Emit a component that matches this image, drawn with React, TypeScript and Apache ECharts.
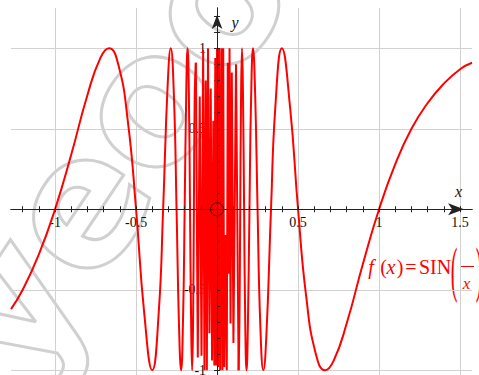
import React, { useEffect, useRef } from 'react';
import * as echarts from 'echarts';

// Left branch of the curve (x < 0)
const leftX = [-1.272, -1.2, -1.1, -1.0, -0.9, -0.8, -0.72, -0.667, -0.61, -0.55, -0.5, -0.45, -0.4, -0.36, -0.333, -0.305, -0.286, -0.267, -0.25, -0.235, -0.222, -0.21, -0.2, -0.19, -0.182, -0.174, -0.167, -0.16, -0.154, -0.148, -0.143, -0.138, -0.131];
const leftY = [-0.62, -0.5, -0.28, 0, 0.34, 0.71, 0.94, 1.0, 0.9, 0.54, 0, -0.64, -1.0, -0.64, 0, 0.77, 1.0, 0.72, 0, -0.72, -1.0, -0.68, 0, 0.74, 1.0, 0.71, 0, -0.71, -1.0, -0.69, 0, 0.7, 0.91];

// Dense oscillation block around x = 0
const centerX = [-0.131, -0.119, -0.107, -0.096, -0.086, -0.078, -0.07, -0.063, -0.056, -0.047, -0.039, -0.031, -0.023, -0.017, -0.011, -0.006, 0.0, 0.006, 0.012, 0.019, 0.026, 0.033, 0.038, 0.044, 0.051, 0.06, 0.066, 0.072, 0.077, 0.083, 0.091, 0.101, 0.117, 0.133];
const centerY = [0.91, -0.92, 0.7, -0.91, 0.99, -1.0, 0.8, -1.0, 1.0, -0.77, 0.75, -0.94, 0.55, -0.97, 0.94, -0.97, 1.0, -0.98, 1.0, -1.0, 1.0, -1.0, 1.0, -0.98, -0.16, -1.0, 0.91, -0.4, 1.0, -0.71, 0.85, -0.83, 0.9, -1.0];

// Right branch of the curve (x > 0)
const rightX = [0.133, 0.138, 0.143, 0.148, 0.154, 0.16, 0.167, 0.174, 0.182, 0.19, 0.2, 0.21, 0.222, 0.235, 0.25, 0.267, 0.286, 0.305, 0.333, 0.36, 0.4, 0.45, 0.5, 0.55, 0.61, 0.667, 0.72, 0.8, 0.9, 1.0, 1.1, 1.2, 1.3, 1.4, 1.5, 1.574];
const rightY = [-1.0, -0.7, 0, 0.69, 1.0, 0.71, 0, -0.71, -1.0, -0.74, 0, 0.68, 1.0, 0.72, 0, -0.72, -1.0, -0.77, 0, 0.64, 1.0, 0.64, 0, -0.54, -0.9, -1.0, -0.94, -0.71, -0.34, 0, 0.28, 0.5, 0.66, 0.78, 0.87, 0.91];

// Axis ticks / labels / grid lines
const xTicks = [-1.2, -1.1, -1.0, -0.9, -0.8, -0.7, -0.6, -0.5, -0.4, -0.3, -0.2, -0.1, 0, 0.1, 0.2, 0.3, 0.4, 0.5, 0.6, 0.7, 0.8, 0.9, 1.0, 1.1, 1.2, 1.3, 1.4, 1.5];
const yTicks = [-1.0, -0.9, -0.8, -0.7, -0.6, -0.5, -0.4, -0.3, -0.2, -0.1, 0, 0.1, 0.2, 0.3, 0.4, 0.5, 0.6, 0.7, 0.8, 0.9, 1.0, 1.1, 1.2];
const xLabels = [-1, -0.5, 0.5, 1, 1.5];
const yLabels = [-1, -0.5, 0.5, 1];
const gridX = [-1, -0.5, 0.5, 1, 1.5];
const gridY = [-1, -0.5, 0.5, 1];

const X_MIN = -1.272;
const X_MAX = 1.574;
const Y_MIN = -1.1;
const Y_MAX = 1.25;

const G_LEFT = 11;
const G_TOP = 8;
const G_W = 461.05;
const G_H = 378.35;

const SERIF = '"Liberation Serif", "DejaVu Serif", serif';
const RED = '#ff0000';
const AXIS = '#222';

const zip = (xs: number[], ys: number[]) => xs.map((x, i) => [x, ys[i]]);

function buildOption() {
  // pixel position of the zero lines inside the grid, used to move the axes onto them
  const zeroX = G_LEFT + ((0 - X_MIN) / (X_MAX - X_MIN)) * G_W;
  const zeroY = G_TOP + ((Y_MAX - 0) / (Y_MAX - Y_MIN)) * G_H;
  const offBottom = -(G_TOP + G_H - zeroY);
  const offTop = -(zeroY - G_TOP);
  const offLeft = -(zeroX - G_LEFT);
  const offRight = -(G_LEFT + G_W - zeroX);

  const curveBase = {
    type: 'line',
    showSymbol: false,
    symbol: 'none',
    silent: true,
    lineStyle: { color: RED, width: 2 },
    z: 3,
  };
  const tickStyle = { color: AXIS, width: 1 };
  const labelFont = { fontFamily: SERIF, fontSize: 14, color: '#111' };

  const redText = (text: string, x: number, y: number, font: string, extra: any = {}) => ({
    type: 'text', x, y, ...extra,
    style: { text, font, fill: RED, align: 'center', verticalAlign: 'middle' },
  });

  return {
    animation: false,
    backgroundColor: '#ffffff',
    grid: { left: G_LEFT, top: G_TOP, width: G_W, height: G_H, containLabel: false, outerBoundsMode: 'none' },
    xAxis: [
      {
        type: 'value', min: X_MIN, max: X_MAX, position: 'bottom', offset: offBottom, z: 2,
        axisLine: {
          show: true, onZero: false, symbol: ['none', 'arrow'], symbolSize: [9, 16], symbolOffset: [0, -8],
          lineStyle: { color: AXIS, width: 1 },
        },
        axisTick: { show: true, customValues: xTicks, length: 3, lineStyle: tickStyle },
        axisLabel: { show: true, customValues: xLabels, margin: 6, ...labelFont, formatter: (v: number) => String(v) },
        splitLine: { show: false },
      },
      {
        type: 'value', min: X_MIN, max: X_MAX, position: 'top', offset: offTop, z: 10,
        axisLine: { show: true, onZero: false, lineStyle: { color: AXIS, width: 1 } },
        axisTick: { show: true, customValues: xTicks, length: 3, lineStyle: tickStyle },
        axisLabel: { show: false },
        splitLine: { show: false },
      },
    ],
    yAxis: [
      {
        type: 'value', min: Y_MIN, max: Y_MAX, position: 'left', offset: offLeft, z: 2,
        axisLine: {
          show: true, onZero: false, symbol: ['none', 'arrow'], symbolSize: [8, 14], symbolOffset: [0, -7],
          lineStyle: { color: AXIS, width: 1 },
        },
        axisTick: { show: true, customValues: yTicks, length: 3, lineStyle: tickStyle },
        axisLabel: { show: true, customValues: yLabels, margin: 11, ...labelFont, formatter: (v: number) => String(v) },
        splitLine: { show: false },
      },
      {
        type: 'value', min: Y_MIN, max: Y_MAX, position: 'right', offset: offRight, z: 10,
        axisLine: { show: true, onZero: false, lineStyle: { color: AXIS, width: 1 } },
        axisTick: { show: true, customValues: yTicks, length: 3, lineStyle: tickStyle },
        axisLabel: { show: false },
        splitLine: { show: false },
      },
    ],
    series: [
      {
        type: 'line', data: [], z: 1, silent: true, symbol: 'none',
        markLine: {
          silent: true, z: 1, symbol: ['none', 'none'], label: { show: false },
          lineStyle: { color: '#d2d2d2', width: 1, type: 'solid' },
          emphasis: { disabled: true },
          data: [...gridX.map((v) => ({ xAxis: v })), ...gridY.map((v) => ({ yAxis: v }))],
        },
      },
      { ...curveBase, smooth: 0.5, data: zip(leftX, leftY) },
      { ...curveBase, smooth: false, data: zip(centerX, centerY) },
      { ...curveBase, smooth: 0.5, data: zip(rightX, rightY) },
      {
        type: 'scatter', data: [[0, 0]], symbol: 'circle', symbolSize: 13, z: 12, silent: true,
        itemStyle: { color: 'rgba(0,0,0,0)', borderColor: '#111', borderWidth: 1 },
      },
    ],
    graphic: [
      {
        type: 'text', x: 95, y: 178, rotation: 0.98, z: 0, silent: true,
        style: {
          text: 'jyeoo', font: 'bold 180px "DejaVu Sans", sans-serif', fill: 'none',
          stroke: '#d0d0d0', lineWidth: 3, align: 'center', verticalAlign: 'middle',
        },
      },
      { type: 'text', x: 458.5, y: 191, z: 20, style: { text: 'x', font: `italic 16px ${SERIF}`, fill: '#111', align: 'center', verticalAlign: 'middle' } },
      { type: 'text', x: 235, y: 22, z: 20, style: { text: 'y', font: `italic 16px ${SERIF}`, fill: '#111', align: 'center', verticalAlign: 'middle' } },
      {
        type: 'group', z: 20, silent: true,
        children: [
          redText('f', 371, 267, `italic 20px ${SERIF}`),
          redText('(', 383.5, 267, `20px ${SERIF}`),
          redText('x', 391, 267, `italic 20px ${SERIF}`),
          redText(')', 400, 267, `20px ${SERIF}`),
          redText('=', 411, 267, `20px ${SERIF}`),
          redText('SIN', 435, 267, `20px ${SERIF}`),
          redText('(', 454, 269.5, `20px ${SERIF}`, { scaleY: 3.1 }),
          { type: 'line', shape: { x1: 460, y1: 266.5, x2: 474, y2: 266.5 }, style: { stroke: RED, lineWidth: 1 } },
          redText('x', 466.5, 283, `italic 17px ${SERIF}`),
          redText(')', 479, 269.5, `20px ${SERIF}`, { scaleY: 3.1 }),
        ],
      },
    ],
  };
}

export default function App() {
  const ref = useRef<HTMLDivElement>(null);
  useEffect(() => {
    if (!ref.current) return;
    const chart = echarts.init(ref.current, null, { renderer: 'svg' });
    chart.setOption(buildOption() as any);
    return () => chart.dispose();
  }, []);
  return (
    <div
      ref={ref}
      style={{ position: 'fixed', left: 0, top: 0, width: 479, height: 375, background: '#fff' }}
    />
  );
}
